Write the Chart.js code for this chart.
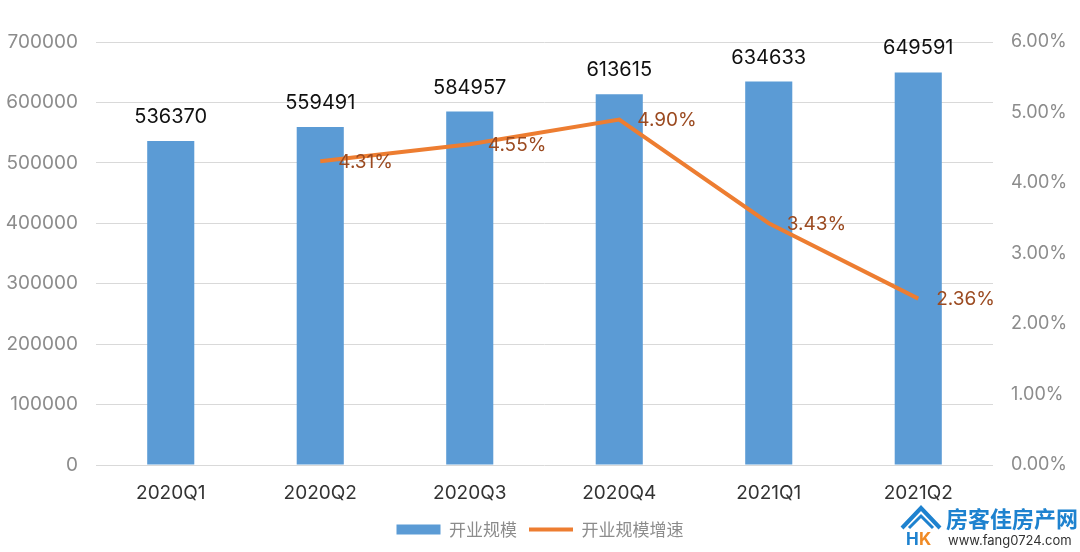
<!DOCTYPE html>
<html>
<head>
<meta charset="utf-8">
<script src="https://cdn.jsdelivr.net/npm/chart.js@4/dist/chart.umd.min.js"></script>
<style>
html,body{margin:0;padding:0;background:#fff;}
#wrap{width:1080px;height:552px;position:relative;}
</style>
</head>
<body>
<div id="wrap"><canvas id="c" width="1080" height="552"></canvas></div>
<script>
const categories = ['2020Q1','2020Q2','2020Q3','2020Q4','2021Q1','2021Q2'];
const scaleValues = [536370, 559491, 584957, 613615, 634633, 649591];
const growthValues = [null, 4.31, 4.55, 4.90, 3.43, 2.36];
const seriesNames = ['开业规模', '开业规模增速'];

const FONT = 'Inter, "Noto Sans CJK SC", sans-serif';
const CJK = '"Noto Sans CJK SC", Inter, sans-serif';

const labelPlugin = {
  id: 'valueLabels',
  afterDatasetsDraw(chart) {
    const ctx = chart.ctx;
    ctx.save();
    const barMeta = chart.getDatasetMeta(0);
    ctx.font = '20px ' + FONT;
    ctx.fillStyle = '#111';
    ctx.textAlign = 'center';
    ctx.textBaseline = 'alphabetic';
    barMeta.data.forEach((el, i) => {
      ctx.fillText(String(scaleValues[i]), el.x, el.y - 18);
    });
    const lineMeta = chart.getDatasetMeta(1);
    ctx.font = '19px ' + FONT;
    ctx.fillStyle = '#9B4A20';
    ctx.textAlign = 'left';
    ctx.textBaseline = 'middle';
    lineMeta.data.forEach((el, i) => {
      const v = growthValues[i];
      if (v === null) return;
      ctx.fillText(v.toFixed(2) + '%', el.x + 18, el.y + 1);
    });
    ctx.restore();
  },
  afterDraw(chart) {
    const ctx = chart.ctx;
    ctx.save();
    // watermark
    ctx.strokeStyle = '#1E82CF';
    ctx.lineWidth = 4;
    ctx.lineJoin = 'miter';
    ctx.beginPath();
    ctx.moveTo(902, 528); ctx.lineTo(921, 508); ctx.lineTo(940, 528);
    ctx.stroke();
    ctx.lineWidth = 3;
    ctx.beginPath();
    ctx.moveTo(909, 528); ctx.lineTo(921, 516); ctx.lineTo(933, 528);
    ctx.stroke();
    ctx.font = 'bold 17px ' + FONT;
    ctx.fillStyle = '#1E82CF';
    ctx.textAlign = 'left';
    ctx.textBaseline = 'middle';
    ctx.fillText('H', 906, 540);
    ctx.fillStyle = '#F08A24';
    ctx.fillText('K', 919, 540);
    ctx.fillStyle = '#1E82CF';
    ctx.font = 'bold 22px ' + CJK;
    ctx.fillText('房客佳房产网', 946, 519);
    ctx.fillStyle = '#333';
    ctx.font = '13px ' + FONT;
    ctx.fillText('www.fang0724.com', 948, 541);
    ctx.restore();
  }
};

new Chart(document.getElementById('c'), {
  data: {
    labels: categories,
    datasets: [
      {
        type: 'bar',
        label: seriesNames[0],
        data: scaleValues,
        backgroundColor: '#5B9BD5',
        barPercentage: 0.315,
        categoryPercentage: 1,
        yAxisID: 'y',
        order: 2,
        pointStyle: 'rect'
      },
      {
        type: 'line',
        label: seriesNames[1],
        data: growthValues,
        borderColor: '#ED7D31',
        backgroundColor: '#ED7D31',
        borderWidth: 4,
        pointRadius: 0,
        tension: 0,
        yAxisID: 'y1',
        order: 1,
        pointStyle: 'line'
      }
    ]
  },
  options: {
    responsive: false,
    animation: false,
    layout: { padding: { top: 42, bottom: 4, left: 0, right: 0 } },
    plugins: {
      tooltip: { enabled: false },
      legend: {
        position: 'bottom',
        labels: {
          usePointStyle: true,
          pointStyleWidth: 44,
          boxHeight: 10,
          color: '#8C8C8C',
          font: { family: CJK, size: 17 },
          padding: 12,
          sort: (a, b) => a.datasetIndex - b.datasetIndex
        }
      }
    },
    scales: {
      x: {
        grid: { display: false },
        border: { display: false },
        ticks: { color: '#333', font: { family: FONT, size: 19 }, padding: 9 },
        afterFit(s) { s.height = 44; }
      },
      y: {
        position: 'left',
        min: 0, max: 700000,
        ticks: { stepSize: 100000, color: '#8C8C8C', font: { family: FONT, size: 19 }, padding: 18,
          callback: v => String(v) },
        grid: { color: '#D9D9D9', lineWidth: 1, drawTicks: false },
        border: { display: false },
        afterFit(s) { s.width = 96; }
      },
      y1: {
        position: 'right',
        min: 0, max: 6,
        ticks: { stepSize: 1, color: '#8C8C8C', font: { family: FONT, size: 18 }, padding: 18,
          callback: v => v.toFixed(2) + '%' },
        grid: { display: false, drawTicks: false },
        border: { display: false },
        afterFit(s) { s.width = 87; }
      }
    }
  },
  plugins: [labelPlugin]
});
</script>
</body>
</html>
